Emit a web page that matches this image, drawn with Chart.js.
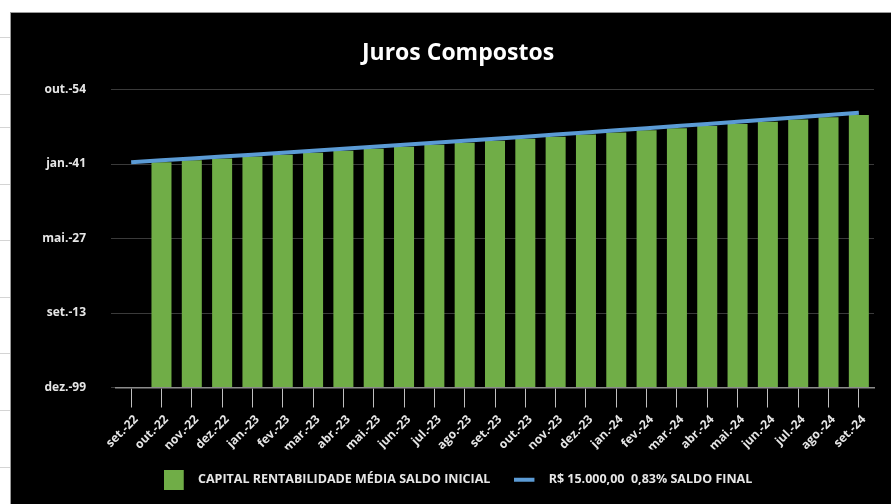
<!DOCTYPE html>
<html>
<head>
<meta charset="utf-8">
<script src="https://cdn.jsdelivr.net/npm/chart.js@4"></script>
<style>
  html, body { margin: 0; padding: 0; }
  body { width: 891px; height: 504px; overflow: hidden; position: relative; background: #fff; }
  .cell-line { position: absolute; left: 0; width: 10px; height: 1px; background: #d4d4d4; }
  .chartBox {
    position: absolute; left: 10px; top: 12px; width: 894px; height: 500px;
    background: #000; border-top: 1px solid #9a9a9a; border-left: 1px solid #9a9a9a;
  }
</style>
</head>
<body>
<div class="cell-line" style="top:37px"></div>
<div class="cell-line" style="top:94px"></div>
<div class="cell-line" style="top:127px"></div>
<div class="cell-line" style="top:184px"></div>
<div class="cell-line" style="top:240px"></div>
<div class="cell-line" style="top:297px"></div>
<div class="cell-line" style="top:353px"></div>
<div class="cell-line" style="top:410px"></div>
<div class="cell-line" style="top:467px"></div>
<div class="chartBox">
  <canvas id="myChart" width="894" height="500"></canvas>
</div>
<script>
const meses = [
  "set.-22", "out.-22", "nov.-22", "dez.-22", "jan.-23", "fev.-23", "mar.-23",
  "abr.-23", "mai.-23", "jun.-23", "jul.-23", "ago.-23", "set.-23", "out.-23",
  "nov.-23", "dez.-23", "jan.-24", "fev.-24", "mar.-24", "abr.-24", "mai.-24",
  "jun.-24", "jul.-24", "ago.-24", "set.-24"
];

/* saldo inicial de cada mês (a primeira coluna fica vazia) */
const saldoInicial = [
  null, 15124.5, 15250.03, 15376.61, 15504.24, 15632.93, 15762.68, 15893.51,
  16025.43, 16158.44, 16292.55, 16427.78, 16564.13, 16701.61, 16840.23,
  16980.0, 17120.93, 17263.03, 17406.31, 17550.78, 17696.45, 17843.33,
  17991.43, 18140.76, 18291.33
];

/* saldo final de cada mês */
const saldoFinal = [
  15124.5, 15250.03, 15376.61, 15504.24, 15632.93, 15762.68, 15893.51,
  16025.43, 16158.44, 16292.55, 16427.78, 16564.13, 16701.61, 16840.23,
  16980.0, 17120.93, 17263.03, 17406.31, 17550.78, 17696.45, 17843.33,
  17991.43, 18140.76, 18291.33, 18443.15
];

/* eixo vertical formatado como data (mmm-aa) na planilha */
const eixoYValores = [0, 5000, 10000, 15000, 20000];
const eixoYRotulos = ["dez.-99", "set.-13", "mai.-27", "jan.-41", "out.-54"];

const VERDE = "#70ad47";
const AZUL = "#5b9bd5";
const TEXTO = "#e6e6e6";
const FONTE = "'Open Sans', 'DejaVu Sans', sans-serif";

/* marcadores da legenda desenhados em canvas pequenos */
function marcador(tipo) {
  const c = document.createElement("canvas");
  c.width = 28;
  c.height = 20;
  const g = c.getContext("2d");
  if (tipo === "barra") {
    g.fillStyle = VERDE;
    g.fillRect(0, 0, 20, 20);
  } else {
    g.fillStyle = AZUL;
    g.fillRect(0, 8, 20, 4);
  }
  return c;
}

const canvas = document.getElementById("myChart");
const ctx = canvas.getContext("2d");

const data = {
  labels: meses,
  datasets: [
    {
      type: "bar",
      label: "CAPITAL RENTABILIDADE MÉDIA SALDO INICIAL",
      data: saldoInicial,
      backgroundColor: VERDE,
      borderWidth: 0,
      barPercentage: 0.66,
      categoryPercentage: 1,
      order: 1,
    },
    {
      type: "line",
      label: "R$ 15.000,00  0,83% SALDO FINAL",
      data: saldoFinal,
      borderColor: AZUL,
      borderWidth: 4,
      pointRadius: 0,
      tension: 0,
      order: 0,
    },
  ],
};

new Chart(ctx, {
  data,
  options: {
    responsive: false,
    animation: false,
    layout: { padding: { left: 31, right: 31, top: 0, bottom: 17 } },
    plugins: {
      tooltip: { enabled: false },
      title: {
        display: true,
        text: "Juros Compostos",
        color: "#ffffff",
        font: { family: FONTE, size: 23, weight: "bold" },
        padding: { top: 27, bottom: 22 },
      },
      legend: {
        position: "bottom",
        labels: {
          color: TEXTO,
          font: { family: FONTE, size: 12.5, weight: "bold" },
          usePointStyle: true,
          pointStyleWidth: 28,
          padding: 24,
          generateLabels(chart) {
            return chart.data.datasets.map((ds, i) => ({
              text: ds.label,
              fontColor: TEXTO,
              pointStyle: marcador(i === 0 ? "barra" : "linha"),
              datasetIndex: i,
              lineWidth: 0,
            }));
          },
        },
      },
    },
    scales: {
      x: {
        offset: true,
        grid: {
          offset: false,
          drawOnChartArea: false,
          drawTicks: true,
          tickLength: 20,
          color: "#bfbfbf",
        },
        border: { color: "#8c8c8c", width: 1.5 },
        ticks: {
          color: TEXTO,
          font: { family: FONTE, size: 12, weight: "bold" },
          maxRotation: 45,
          minRotation: 45,
          autoSkip: false,
          padding: 5,
          labelOffset: 5,
        },
        afterFit(scale) {
          scale.height = 62;
        },
      },
      y: {
        min: 0,
        max: 20000,
        afterBuildTicks(scale) {
          scale.ticks = eixoYValores.map((v) => ({ value: v }));
        },
        grid: { color: "#3a3a3a", lineWidth: 1, drawTicks: true, tickLength: 5 },
        border: { display: false },
        ticks: {
          color: TEXTO,
          font: { family: FONTE, size: 12, weight: "bold" },
          padding: 25,
          callback: (v) => eixoYRotulos[eixoYValores.indexOf(v)],
        },
        afterFit(scale) {
          scale.width = 74;
        },
      },
    },
  },
});
</script>
</body>
</html>
